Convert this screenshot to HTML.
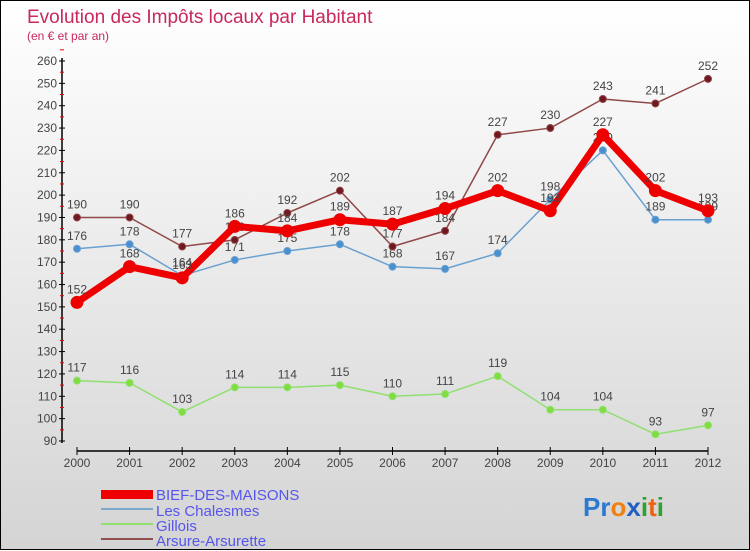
<!DOCTYPE html>
<html><head><meta charset="utf-8"><style>
body{margin:0;width:750px;height:550px;overflow:hidden;font-family:"Liberation Sans",sans-serif}
#w{position:relative;width:748px;height:548px;border:1px solid #000;background:linear-gradient(#fff,#d4d4d4)}
svg{position:absolute;left:0;top:0}
</style></head><body>
<div id="w">
<svg id="c" width="750" height="550">
<text x="26" y="22" font-size="19" fill="#c8285a">Evolution des Impôts locaux par Habitant</text>
<text x="26" y="39" font-size="12" fill="#c8285a">(en € et par an)</text>
<g id="g"></g>
<g>
<rect x="100" y="489" width="52" height="9" fill="#e00"/>
<text x="155" y="499" font-size="15" fill="#5555ee">BIEF-DES-MAISONS</text>
<rect x="100" y="507" width="52" height="2" fill="#7aaad0"/>
<text x="155" y="515" font-size="15" fill="#5555ee">Les Chalesmes</text>
<rect x="100" y="522" width="52" height="2" fill="#90e070"/>
<text x="155" y="530" font-size="15" fill="#5555ee">Gillois</text>
<rect x="100" y="537" width="52" height="2" fill="#905050"/>
<text x="155" y="545" font-size="15" fill="#5555ee">Arsure-Arsurette</text>
</g>
<text x="582" y="515" font-size="26" font-weight="bold"><tspan fill="#2a7ad0">Pr</tspan><tspan fill="#f08010">o</tspan><tspan fill="#2060c0">x</tspan><tspan fill="#30a030">i</tspan><tspan fill="#f06010">t</tspan><tspan fill="#30a030">i</tspan></text>
</svg></div>
<script>
const years=[2000,2001,2002,2003,2004,2005,2006,2007,2008,2009,2010,2011,2012];
const yTicks=[90,100,110,120,130,140,150,160,170,180,190,200,210,220,230,240,250,260];
const bief=[152,168,163,186,184,189,187,194,202,193,227,202,193];
const chalesmes=[176,178,164,171,175,178,168,167,174,198,220,189,189];
const gillois=[117,116,103,114,114,115,110,111,119,104,104,93,97];
const arsure=[190,190,177,180,192,202,177,184,227,230,243,241,252];
const X=i=>76+i*(707-76)/12;
const Y=v=>440-(v-90)*(380/170);
const g=document.getElementById('g');
const NS='http://www.w3.org/2000/svg';
function mk(t,a){const e=document.createElementNS(NS,t);for(const k in a)e.setAttribute(k,a[k]);g.appendChild(e);return e;}
let ax=mk('line',{x1:61,y1:57,x2:61,y2:442,stroke:'#000','stroke-width':1.5});


yTicks.forEach(v=>{
 mk('line',{x1:58,y1:Y(v),x2:64,y2:Y(v),stroke:'#000'});
 mk('line',{x1:59,y1:Y(v+5),x2:63,y2:Y(v+5),stroke:'#e00'});
 const t=mk('text',{x:56,y:Y(v)+4,'font-size':12,fill:'#444','text-anchor':'end'});t.textContent=v;
 
 
});
let xa=mk('line',{x1:76,y1:450,x2:707,y2:450,stroke:'#000','stroke-width':1.5});


years.forEach((y,i)=>{
 mk('line',{x1:X(i),y1:446,x2:X(i),y2:454,stroke:'#000'});
 const t=mk('text',{x:X(i),y:466,'font-size':12,fill:'#444','text-anchor':'middle'});t.textContent=y;
 
 
});
function series(d,col,w,r,dot,name){
 const p=mk('polyline',{points:d.map((v,i)=>X(i)+','+Y(v)).join(' '),fill:'none',stroke:col,'stroke-width':w,'stroke-linejoin':'round'});
 
 
 d.forEach((v,i)=>{
  const c=mk('circle',{cx:X(i),cy:Y(v),r:r,fill:dot,stroke:col,'stroke-width':1});
  
  
  const t=mk('text',{x:X(i),y:Y(v)-9,'font-size':12,fill:'#444','text-anchor':'middle'});t.textContent=v;
  
  
 });
}
series(gillois,'#90e070',1.5,3.5,'#80dd40','gillois');
series(chalesmes,'#6aa0d0',1.5,3.5,'#4a90d0','chalesmes');
series(arsure,'#904848',1.5,3.5,'#701820','arsure');
series(bief,'#ee0000',7,6,'#ee0000','bief');
</script>
</body></html>
